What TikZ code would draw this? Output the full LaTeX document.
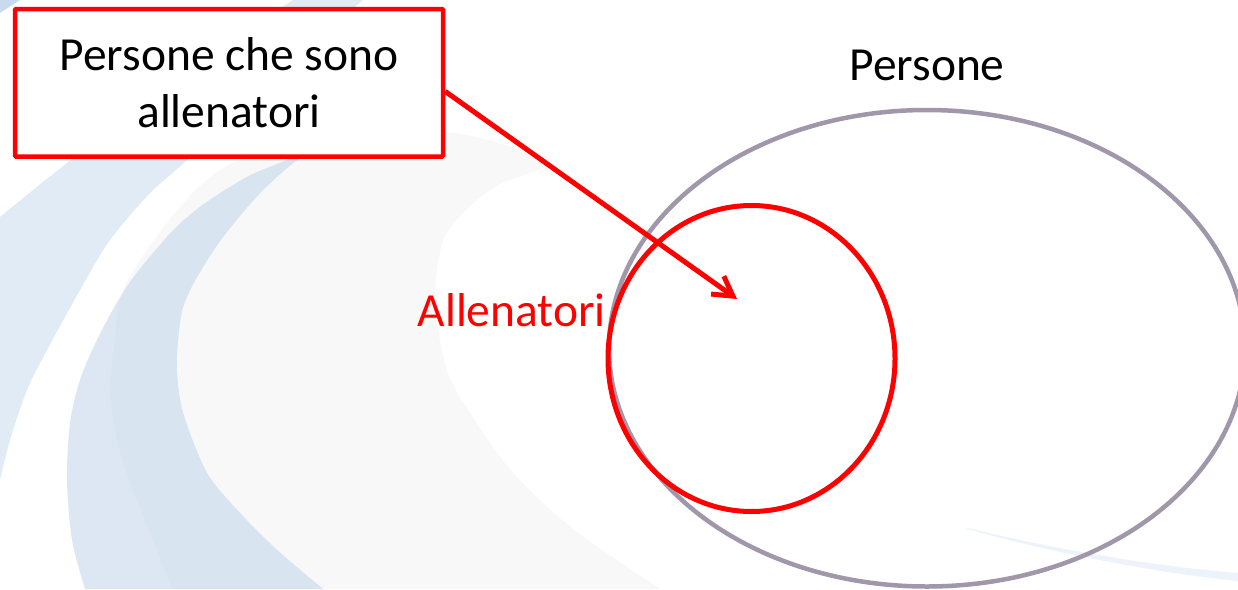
\documentclass[tikz,border=0pt]{standalone}
\usepackage{fontspec}
\setmainfont{Carlito}
\usetikzlibrary{arrows.meta,calc,shapes.geometric}
\definecolor{bandA}{HTML}{E1EBF6}
\definecolor{bandB}{HTML}{DCE7F3}
\definecolor{bandBd}{HTML}{D8E4F0}
\definecolor{bggray}{HTML}{F8F8F8}
\definecolor{cornerblue}{HTML}{C9DAEE}
\definecolor{streakblue}{HTML}{EDF3FA}
\definecolor{setgray}{HTML}{A197AA}
\definecolor{pptred}{HTML}{FF0000}
\begin{document}
\begin{tikzpicture}[x=1pt,y=-1pt,
  lbl/.style={font=\fontsize{47.5}{57.5}\selectfont, inner sep=0pt},
  callout/.style={draw=pptred, line width=4.5pt, fill=white, rounded corners=1pt,
    minimum width=428pt, minimum height=147.5pt, inner sep=0pt, align=center,
    font=\fontsize{47.5}{57.5}\selectfont},
  setline/.style={ellipse, draw=setgray, line width=4.5pt, inner sep=0pt},
  subsetline/.style={ellipse, draw=pptred, line width=5pt, inner sep=0pt},
  pointer/.style={draw=pptred, line width=5pt,
    -{Straight Barb[length=19pt,width=22pt,line width=5pt]}}]
\useasboundingbox (0,0) rectangle (1238,589);
\fill[white] (0,0) rectangle (1238,589);
% background decoration
\fill[bandA] plot[smooth] coordinates {(0,217) (43,182) (67,163) (150,95) (293,0)}
  -- (363,0) -- plot[smooth] coordinates {(363,0) (270,80) (187,160) (150,193) (110,240) (80,290) (47,350) (27,390) (10,440) (0,480)} -- cycle;
\fill[cornerblue] (0,0) -- (20,0) -- (0,13) -- cycle;
\fill[bggray] plot[smooth] coordinates {(85,589) (90,480) (105,380) (123,290) (180,207) (233,163) (330,138) (443,132) (515,148) (545,166) (500,184) (468,208) (443,241) (435,300) (447,371) (474,419) (514,474) (573,529) (660,589)} -- cycle;
\fill[bandB] plot[smooth] coordinates {(85,589) (72,540) (67,480) (70,423) (80,380) (97,340) (123,293) (167,237) (200,207) (247,177) (287,160) (330,140)}
  -- plot[smooth] coordinates {(330,140) (297,160) (260,193) (223,237) (197,277) (183,307) (178,340) (177,373) (183,413) (207,473) (240,513) (277,550) (323,589)} -- cycle;
\fill[bandBd] plot[smooth] coordinates {(173,589) (133,490) (117,440) (110,390) (115,340) (123,293) (167,237) (200,207) (247,177) (287,160) (330,140)}
  -- plot[smooth] coordinates {(330,140) (297,160) (260,193) (223,237) (197,277) (183,307) (178,340) (177,373) (183,413) (207,473) (240,513) (277,550) (323,589)} -- cycle;
\fill[streakblue] (967,528) .. controls (1050,548) and (1150,566) .. (1238,573) -- (1238,581) .. controls (1150,572) and (1050,552) .. (967,529) -- cycle;
% sets
\node[setline, minimum width=636pt, minimum height=476.5pt] (persone) at (927,348.25) {};
\node[subsetline, minimum width=287pt, minimum height=306pt] (allenatori) at (751.5,358.5) {};
% labels
\node[lbl, anchor=base] (lpersone) at (927,80) {Persone};
\node[lbl, anchor=base, text=pptred] (lallen) at (511.7,326) {Allenatori};
% callout box and arrow
\node[callout] (box) at (229,82.75) {Persone che sono\\allenatori};
\coordinate (tip) at (737,299);
\draw[pointer] ($(box.north east)!0.557!(box.south east)$) -- (tip);
\end{tikzpicture}
\end{document}
